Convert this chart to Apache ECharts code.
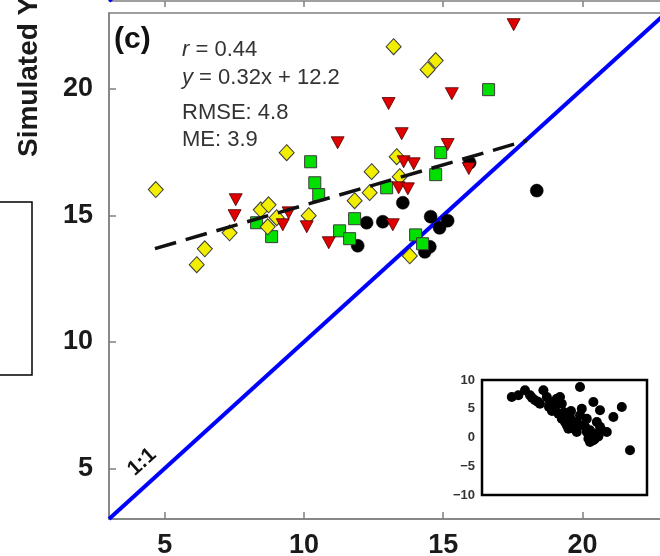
<!DOCTYPE html>
<html>
<head>
<meta charset="utf-8">
<script src="https://cdn.jsdelivr.net/npm/echarts@6/dist/echarts.min.js"></script>
<style>
  html, body { margin: 0; padding: 0; background: #fff; }
  #chart { width: 660px; height: 556px; }
</style>
</head>
<body>
<div id="chart"></div>
<script>
// Observed (x) vs simulated (y) values, one pair of arrays per group
const obsYellow = [4.68, 13.22, 14.73, 14.44, 9.38, 8.45, 8.73, 8.70, 9.02, 7.33, 6.44, 6.15, 10.17, 13.33, 12.43, 13.44, 12.36, 11.82, 13.80];
const simYellow = [16.02, 21.67, 21.12, 20.76, 17.48, 15.22, 15.42, 14.55, 14.91, 14.31, 13.68, 13.05, 14.99, 17.32, 16.73, 16.53, 15.90, 15.58, 13.40];

const obsGreen = [16.63, 10.24, 10.39, 10.53, 8.30, 8.84, 11.28, 14.91, 14.73, 12.97, 11.82, 11.64, 14.01, 14.26];
const simGreen = [19.97, 17.12, 16.29, 15.82, 14.71, 14.16, 14.39, 17.48, 16.61, 16.09, 14.87, 14.08, 14.23, 13.88];

const obsRed = [17.53, 15.31, 13.04, 13.51, 11.21, 15.16, 13.58, 13.94, 15.92, 13.40, 13.73, 13.19, 10.89, 7.55, 7.51, 9.45, 9.24, 10.10];
const simRed = [22.54, 19.81, 19.42, 18.23, 17.87, 17.80, 17.12, 17.04, 16.85, 16.09, 16.05, 14.63, 13.92, 15.62, 14.99, 15.10, 14.63, 14.55];

const obsBlack = [15.95, 18.36, 13.55, 12.25, 12.83, 11.93, 14.55, 15.16, 14.87, 14.52, 14.34];
const simBlack = [17.08, 15.98, 15.50, 14.71, 14.75, 13.80, 14.95, 14.79, 14.51, 13.76, 13.56];

// Fitted regression and its drawn extent
const fitSlope = 0.32;
const fitIntercept = 12.2;
const fitRange = [4.65, 18.0];
const oneToOne = [3, 23];

// Tick labels
const mainTicks = [5, 10, 15, 20];
const insetTicksX = [0, 1, 2, 3, 4, 5, 6, 7];

// Residuals shown in the small panel
const insetX = [1.09, 1.42, 1.75, 2.0, 2.25, 2.5, 2.67, 2.84, 3.0, 3.17, 3.34, 3.5, 3.59, 3.25, 3.42, 3.59, 3.75, 3.84, 4.0, 4.17, 4.34, 4.5, 4.5, 4.59, 4.67, 4.84, 5.0, 5.09, 4.92, 5.0, 5.25, 5.34, 5.17, 5.34, 5.5, 5.59, 5.84, 6.17, 6.59, 7.0, 3.92, 4.34, 4.84, 5.17, 5.5, 2.1, 2.4, 2.95, 3.1, 3.7, 4.1, 4.25, 4.75, 5.42, 4.05];
const insetY = [7.04, 7.34, 8.21, 7.34, 6.47, 5.88, 8.21, 7.04, 6.17, 5.6, 6.75, 7.04, 5.88, 5.01, 4.14, 3.27, 2.7, 2.12, 3.57, 1.83, 2.7, 8.78, 3.86, 5.01, 2.12, 3.27, 1.25, 0.38, -0.21, -0.78, -0.21, 0.66, 6.17, 2.7, 4.73, 1.25, 0.96, 3.57, 5.3, -2.23, 1.53, 0.96, 0.96, -0.49, 1.88, 6.9, 6.2, 5.3, 4.6, 4.4, 2.5, 1.4, 1.9, 0.2, 4.6];

const zip = (a, b) => a.map((v, i) => [v, b[i]]);
const FONT = "'Liberation Sans', Arial, sans-serif";
const AXIS_GRAY = '#808080';

const chart = echarts.init(document.getElementById('chart'), null, { renderer: 'canvas' });

const tickLabel = {
  fontFamily: FONT, fontSize: 27, fontWeight: 'bold', color: '#1a1a1a'
};

const option = {
  animation: false,
  backgroundColor: '#fff',
  grid: [
    { left: 109, top: 13, width: 557, height: 506, show: true, borderColor: AXIS_GRAY, borderWidth: 1.5, backgroundColor: 'transparent', outerBoundsMode: 'none', containLabel: false },
    { left: 482, top: 380, width: 165, height: 115, show: true, borderColor: '#000', borderWidth: 2.5, backgroundColor: '#fff', z: 10, outerBoundsMode: 'none', containLabel: false },
    { left: 109, top: -60, width: 557, height: 61, show: false, outerBoundsMode: 'none', containLabel: false }
  ],
  xAxis: [
    {
      gridIndex: 0, type: 'value', min: 3, max: 23,
      splitLine: { show: false },
      axisLine: { show: true, lineStyle: { color: AXIS_GRAY, width: 1.5 } },
      axisTick: { show: true, inside: true, length: 7, customValues: mainTicks, lineStyle: { color: AXIS_GRAY, width: 1.5 } },
      axisLabel: Object.assign({ customValues: mainTicks, margin: 13 }, tickLabel)
    },
    {
      gridIndex: 1, type: 'value', min: -0.4, max: 7.85,
      splitLine: { show: false },
      axisLine: { show: false },
      axisTick: { show: true, inside: true, length: 4, customValues: insetTicksX, lineStyle: { color: '#000', width: 1.5 } },
      axisLabel: { show: false }
    },
    {
      gridIndex: 2, type: 'value', min: 3, max: 23,
      splitLine: { show: false },
      axisLine: { show: true, lineStyle: { color: AXIS_GRAY, width: 1.5 } },
      axisTick: { show: true, inside: false, length: 6, customValues: mainTicks, lineStyle: { color: AXIS_GRAY, width: 1.5 } },
      axisLabel: { show: false }
    }
  ],
  yAxis: [
    {
      gridIndex: 0, type: 'value', min: 3, max: 23,
      splitLine: { show: false },
      axisLine: { show: true, lineStyle: { color: AXIS_GRAY, width: 1.5 } },
      axisTick: { show: true, inside: true, length: 7, customValues: mainTicks, lineStyle: { color: AXIS_GRAY, width: 1.5 } },
      axisLabel: Object.assign({ customValues: mainTicks, margin: 16 }, tickLabel)
    },
    {
      gridIndex: 1, type: 'value', min: -10, max: 10, interval: 5,
      splitLine: { show: false },
      axisLine: { show: false },
      axisTick: { show: false },
      axisLabel: {
        fontFamily: FONT, fontSize: 13, fontWeight: 'bold', color: '#333', margin: 7,
        formatter: v => (v < 0 ? '\u2212' + Math.abs(v) : String(v))
      }
    },
    {
      gridIndex: 2, type: 'value', min: 3, max: 5.41,
      splitLine: { show: false },
      axisLine: { show: false },
      axisTick: { show: false },
      axisLabel: { show: false }
    }
  ],
  series: [
    {
      name: '1:1', type: 'line', xAxisIndex: 0, yAxisIndex: 0,
      data: [[oneToOne[0], oneToOne[0]], [oneToOne[1], oneToOne[1]]],
      showSymbol: false, symbol: 'none', z: 2,
      lineStyle: { color: '#0000ff', width: 4 }
    },
    {
      name: '1:1 upper', type: 'line', xAxisIndex: 2, yAxisIndex: 2,
      data: [[oneToOne[0], oneToOne[0]], [oneToOne[1], oneToOne[1]]],
      showSymbol: false, symbol: 'none', z: 2,
      lineStyle: { color: '#0000ff', width: 4 }
    },
    {
      name: 'black', type: 'scatter', xAxisIndex: 0, yAxisIndex: 0,
      data: zip(obsBlack, simBlack), symbol: 'circle', symbolSize: 13, z: 3,
      itemStyle: { color: '#000', borderColor: '#000', borderWidth: 0.5, opacity: 1 }
    },
    {
      name: 'green', type: 'scatter', xAxisIndex: 0, yAxisIndex: 0,
      data: zip(obsGreen, simGreen), symbol: 'rect', symbolSize: 12, z: 4,
      itemStyle: { color: '#00e000', borderColor: '#3a3a3a', borderWidth: 1, opacity: 1 }
    },
    {
      name: 'yellow', type: 'scatter', xAxisIndex: 0, yAxisIndex: 0,
      data: zip(obsYellow, simYellow), symbol: 'diamond', symbolSize: [15, 16], z: 5,
      itemStyle: { color: '#f2ee00', borderColor: '#3a3a3a', borderWidth: 1, opacity: 1 }
    },
    {
      name: 'red', type: 'scatter', xAxisIndex: 0, yAxisIndex: 0,
      data: zip(obsRed, simRed), symbol: 'triangle', symbolRotate: 180, symbolSize: [13, 12], z: 6,
      itemStyle: { color: '#e00000', borderColor: '#4a0000', borderWidth: 0.8, opacity: 1 }
    },
    {
      name: 'fit', type: 'line', xAxisIndex: 0, yAxisIndex: 0,
      data: fitRange.map(x => [x, fitSlope * x + fitIntercept]),
      showSymbol: false, symbol: 'none', z: 7,
      lineStyle: { color: '#111', width: 3.5, type: [22, 10] }
    },
    {
      name: 'residual', type: 'scatter', xAxisIndex: 1, yAxisIndex: 1,
      data: zip(insetX, insetY), symbol: 'circle', symbolSize: 10, z: 12,
      itemStyle: { color: '#000', opacity: 1 },
      markLine: {
        silent: true, symbol: ['none', 'none'], label: { show: false },
        lineStyle: { color: '#000', width: 2, type: 'solid' },
        data: [{ yAxis: 0 }]
      }
    }
  ],
  graphic: [
    {
      type: 'rect', z: 20,
      shape: { x: -10, y: 202, width: 42, height: 173 },
      style: { fill: 'none', stroke: '#000', lineWidth: 1.5 }
    },
    {
      type: 'text', x: 29, y: 157, rotation: Math.PI / 2, z: 20,
      style: { text: 'Simulated Yield', font: "bold 28px " + FONT, fill: '#1a1a1a', textAlign: 'left', textVerticalAlign: 'middle' }
    },
    {
      type: 'text', x: 114, y: 40, z: 20,
      style: { text: '(c)', font: "bold 30px " + FONT, fill: '#111', textAlign: 'left', textVerticalAlign: 'middle' }
    },
    {
      type: 'text', x: 182, y: 50, z: 20,
      style: {
        text: '{i|r} = 0.44', font: "22px " + FONT, fill: '#333', textAlign: 'left', textVerticalAlign: 'middle',
        rich: { i: { fontStyle: 'italic', fontFamily: FONT, fontSize: 22, fill: '#333' } }
      }
    },
    {
      type: 'text', x: 182, y: 78, z: 20,
      style: {
        text: '{i|y} = 0.32x + 12.2', font: "22px " + FONT, fill: '#333', textAlign: 'left', textVerticalAlign: 'middle',
        rich: { i: { fontStyle: 'italic', fontFamily: FONT, fontSize: 22, fill: '#333' } }
      }
    },
    {
      type: 'text', x: 182, y: 113, z: 20,
      style: { text: 'RMSE: 4.8', font: "22px " + FONT, fill: '#333', textAlign: 'left', textVerticalAlign: 'middle' }
    },
    {
      type: 'text', x: 182, y: 140, z: 20,
      style: { text: 'ME: 3.9', font: "22px " + FONT, fill: '#333', textAlign: 'left', textVerticalAlign: 'middle' }
    },
    {
      type: 'text', x: 142, y: 462, rotation: 42.2 * Math.PI / 180, z: 20,
      style: { text: '1:1', font: "bold 21px " + FONT, fill: '#111', textAlign: 'center', textVerticalAlign: 'middle' }
    }
  ]
};

chart.setOption(option);
</script>
</body>
</html>
